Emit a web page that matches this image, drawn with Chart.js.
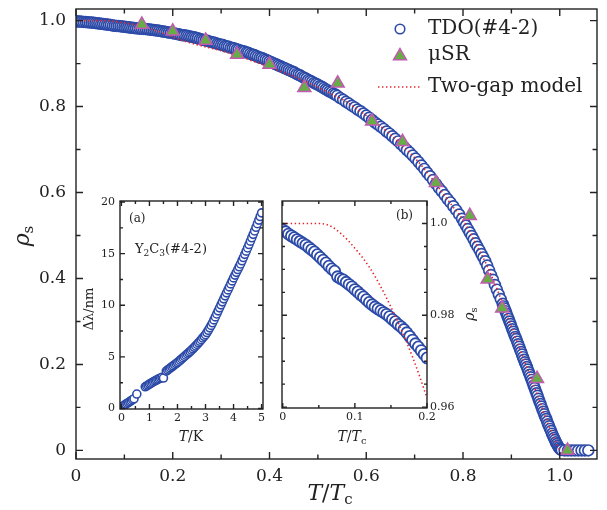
<!DOCTYPE html>
<html>
<head>
<meta charset="utf-8">
<title>Superfluid density of Y2C3</title>
<script src="https://cdn.jsdelivr.net/npm/chart.js@4.4.0/dist/chart.umd.min.js"></script>
<style>
  body { margin: 0; background: #fff; }
  #wrap { position: relative; width: 607px; height: 510px; }
  #wrap canvas { position: absolute; left: 0; top: 0; }
</style>
</head>
<body>
<div id="wrap">
  <canvas id="mainChart" width="607" height="510"></canvas>
  <canvas id="insetA" width="607" height="510"></canvas>
  <canvas id="insetB" width="607" height="510"></canvas>
</div>
<script>
// ---- data ----
// TDO (#4-2): reduced temperature T/Tc and superfluid density rho_s
const tdoT = [
  0, 0.004, 0.008, 0.012, 0.016, 0.02, 0.024, 0.028, 0.032, 0.036,
  0.04, 0.044, 0.048, 0.052, 0.056, 0.06, 0.064, 0.068, 0.072, 0.076,
  0.08, 0.084, 0.088, 0.092, 0.096, 0.1, 0.104, 0.108, 0.112, 0.116,
  0.12, 0.124, 0.128, 0.132, 0.136, 0.14, 0.144, 0.148, 0.152, 0.156,
  0.16, 0.164, 0.168, 0.172, 0.176, 0.18, 0.184, 0.188, 0.192, 0.196,
  0.2,
  0.204, 0.208, 0.212, 0.216, 0.22, 0.224, 0.228, 0.232, 0.236, 0.24,
  0.244, 0.248, 0.252, 0.256, 0.26, 0.264, 0.268, 0.272, 0.276, 0.28,
  0.284, 0.288, 0.292, 0.296, 0.3, 0.304, 0.308, 0.312, 0.316, 0.32,
  0.324, 0.328, 0.332, 0.336, 0.34, 0.344, 0.348, 0.352, 0.356, 0.36,
  0.364, 0.368, 0.372, 0.376, 0.38, 0.384, 0.388, 0.392, 0.396, 0.4,
  0.404, 0.408, 0.412, 0.416, 0.42, 0.424, 0.428, 0.432, 0.436, 0.44,
  0.444, 0.448, 0.452, 0.456, 0.46, 0.464, 0.468, 0.472, 0.476, 0.48,
  0.484, 0.488, 0.492, 0.496, 0.5, 0.504, 0.508, 0.512, 0.516, 0.52,
  0.524, 0.528, 0.532, 0.536, 0.54,
  0.546, 0.552, 0.558, 0.564, 0.57, 0.576, 0.582, 0.588, 0.594, 0.6,
  0.606, 0.612, 0.618, 0.624, 0.63, 0.636, 0.642, 0.648, 0.654, 0.66,
  0.666, 0.672, 0.678, 0.684, 0.69, 0.696, 0.702, 0.708, 0.714, 0.72,
  0.726, 0.732, 0.738, 0.744, 0.75, 0.756, 0.762, 0.768, 0.774, 0.78,
  0.786, 0.792, 0.798,
  0.802, 0.806, 0.81, 0.814, 0.818, 0.822, 0.826, 0.83, 0.834, 0.838,
  0.842, 0.846, 0.85, 0.854, 0.858, 0.862, 0.866, 0.87, 0.874, 0.878,
  0.882,
  0.884, 0.886, 0.888, 0.89, 0.892, 0.894, 0.896, 0.898, 0.9, 0.902,
  0.904, 0.906, 0.908, 0.91, 0.912, 0.914, 0.916, 0.918, 0.92, 0.922,
  0.924, 0.926, 0.928, 0.93, 0.932, 0.934, 0.936, 0.938, 0.94, 0.942,
  0.944, 0.946, 0.948, 0.95, 0.952, 0.954, 0.956, 0.958, 0.96, 0.962,
  0.964, 0.966, 0.968, 0.97, 0.972, 0.974, 0.976, 0.978, 0.98, 0.982,
  0.984, 0.986, 0.988, 0.99, 0.992, 0.994, 0.996, 0.998, 1, 1.002,
  1.004,
  1.01, 1.017, 1.024, 1.031, 1.038, 1.045, 1.052, 1.059
];
const tdoRho = [
  0.9986, 0.9982, 0.9977, 0.9973, 0.9969, 0.9965, 0.9961, 0.9957, 0.9953, 0.9948,
  0.9943, 0.9938, 0.9932, 0.9926, 0.9920, 0.9914, 0.9907, 0.9901, 0.9896, 0.9884,
  0.9880, 0.9877, 0.9872, 0.9867, 0.9862, 0.9856, 0.9851, 0.9845, 0.9840, 0.9834,
  0.9828, 0.9823, 0.9818, 0.9814, 0.9810, 0.9806, 0.9802, 0.9797, 0.9791, 0.9786,
  0.9780, 0.9775, 0.9769, 0.9762, 0.9754, 0.9746, 0.9738, 0.9731, 0.9723, 0.9715,
  0.9707,
  0.970, 0.969, 0.968, 0.967, 0.966, 0.966, 0.965, 0.964, 0.963, 0.962,
  0.961, 0.960, 0.959, 0.957, 0.956, 0.955, 0.954, 0.953, 0.951, 0.950,
  0.949, 0.948, 0.946, 0.945, 0.944, 0.943, 0.941, 0.940, 0.939, 0.937,
  0.936, 0.935, 0.933, 0.932, 0.930, 0.929, 0.928, 0.926, 0.925, 0.923,
  0.921, 0.920, 0.918, 0.916, 0.914, 0.913, 0.911, 0.909, 0.907, 0.905,
  0.903, 0.901, 0.899, 0.897, 0.895, 0.893, 0.891, 0.889, 0.887, 0.885,
  0.883, 0.881, 0.879, 0.876, 0.874, 0.872, 0.869, 0.867, 0.865, 0.862,
  0.860, 0.858, 0.855, 0.853, 0.851, 0.848, 0.846, 0.843, 0.840, 0.838,
  0.835, 0.833, 0.830, 0.828, 0.825,
  0.820, 0.816, 0.811, 0.807, 0.802, 0.798, 0.793, 0.789, 0.784, 0.779,
  0.774, 0.769, 0.763, 0.758, 0.753, 0.748, 0.742, 0.737, 0.731, 0.725,
  0.719, 0.712, 0.706, 0.699, 0.693, 0.686, 0.679, 0.671, 0.663, 0.655,
  0.646, 0.638, 0.629, 0.620, 0.611, 0.603, 0.594, 0.585, 0.577, 0.568,
  0.559, 0.549, 0.539,
  0.531, 0.523, 0.515, 0.507, 0.499, 0.491, 0.482, 0.474, 0.466, 0.457,
  0.449, 0.440, 0.430, 0.419, 0.408, 0.397, 0.385, 0.374, 0.363, 0.352,
  0.341,
  0.335, 0.330, 0.324, 0.318, 0.312, 0.306, 0.300, 0.294, 0.288, 0.282,
  0.276, 0.270, 0.264, 0.259, 0.253, 0.247, 0.241, 0.235, 0.229, 0.223,
  0.217, 0.211, 0.205, 0.200, 0.194, 0.188, 0.182, 0.176, 0.170, 0.164,
  0.158, 0.151, 0.145, 0.139, 0.133, 0.127, 0.120, 0.114, 0.108, 0.102,
  0.096, 0.090, 0.084, 0.078, 0.073, 0.067, 0.061, 0.056, 0.050, 0.045,
  0.039, 0.034, 0.029, 0.024, 0.019, 0.015, 0.011, 0.007, 0.004, 0.002,
  0.001,
  0, 0, 0, 0, 0, 0, 0, 0
];

// muSR points
const musrT   = [0.136, 0.2, 0.268, 0.333, 0.4, 0.472, 0.541, 0.612, 0.675, 0.744, 0.814, 0.851, 0.881, 0.953, 1.016];
const musrRho = [0.991, 0.975, 0.954, 0.921, 0.898, 0.844, 0.854, 0.766, 0.718, 0.623, 0.546, 0.398, 0.331, 0.167, 0.0];

// two-gap model curve
const modelT = [
  0, 0.01, 0.02, 0.03, 0.04, 0.05, 0.06, 0.07, 0.08, 0.09,
  0.1, 0.11, 0.12, 0.13, 0.14, 0.15, 0.16, 0.17, 0.18, 0.19, 0.2,
  0.225, 0.25, 0.275, 0.3, 0.325, 0.35, 0.375, 0.4, 0.425, 0.45,
  0.475, 0.5, 0.525, 0.55, 0.575, 0.6, 0.625, 0.65, 0.675, 0.7,
  0.725, 0.75, 0.775, 0.8, 0.825, 0.85, 0.875, 0.9, 0.925, 0.95, 0.975, 1.0
];
const modelRho = [
  1.0, 1.0, 1.0, 1.0, 1.0, 1.0, 0.9998, 0.9991, 0.9979, 0.9964,
  0.9946, 0.9927, 0.9905, 0.9879, 0.9850, 0.9818, 0.9784, 0.9748, 0.9709, 0.9666, 0.9620,
  0.952, 0.944, 0.937, 0.930, 0.921, 0.912, 0.902, 0.892, 0.881, 0.870,
  0.858, 0.845, 0.831, 0.817, 0.799, 0.779, 0.758, 0.735, 0.709, 0.681,
  0.648, 0.611, 0.573, 0.536, 0.484, 0.429, 0.362, 0.288, 0.214, 0.140, 0.064, 0.0
];

// inset (a): penetration depth shift vs temperature
const insetT = [
  0, 0.05, 0.1, 0.15, 0.2, 0.25, 0.3, 0.35, 0.4, 0.45,
  0.55, 0.85, 0.9, 0.95, 1, 1.05, 1.1, 1.15, 1.2, 1.25,
  1.3, 1.35, 1.4, 1.45, 1.5, 1.6, 1.65, 1.7, 1.75, 1.8,
  1.85, 1.9, 1.95, 2, 2.05, 2.1, 2.15, 2.2, 2.25, 2.3,
  2.35, 2.4, 2.45, 2.5, 2.55, 2.6, 2.65, 2.7, 2.75, 2.8,
  2.85, 2.9, 2.95, 3, 3.05, 3.1, 3.15, 3.2, 3.25, 3.3,
  3.35, 3.4, 3.45, 3.5, 3.55, 3.6, 3.65, 3.7, 3.75, 3.8,
  3.85, 3.9, 3.95, 4, 4.05, 4.1, 4.15, 4.2, 4.25, 4.3,
  4.35, 4.4, 4.45, 4.5, 4.55, 4.6, 4.65, 4.7, 4.75, 4.8,
  4.85, 4.9, 4.95, 5
];
const insetLambda = [
  0.10, 0.20, 0.30, 0.40, 0.49, 0.58, 0.67, 0.76, 0.85, 0.94,
  1.40, 2.10, 2.18, 2.27, 2.36, 2.44, 2.52, 2.60, 2.68, 2.75,
  2.82, 2.89, 2.95, 3.02, 2.95, 3.62, 3.72, 3.83, 3.93, 4.04,
  4.14, 4.24, 4.35, 4.45, 4.56, 4.68, 4.80, 4.92, 5.04, 5.16,
  5.28, 5.40, 5.52, 5.65, 5.78, 5.92, 6.06, 6.21, 6.36, 6.51,
  6.67, 6.83, 6.99, 7.15, 7.36, 7.58, 7.81, 8.05, 8.30, 8.58,
  8.87, 9.16, 9.46, 9.75, 10.04, 10.33, 10.62, 10.91, 11.20, 11.49,
  11.78, 12.07, 12.36, 12.65, 12.92, 13.19, 13.46, 13.73, 14.00, 14.31,
  14.62, 14.93, 15.24, 15.55, 15.88, 16.21, 16.54, 16.87, 17.20, 17.55,
  17.90, 18.25, 18.60, 18.95
];

// ---- styling ----
const SERIF = '"DejaVu Serif", serif';
const INK = '#222';
const BLUE = '#2c4aa8';
const GREEN = '#66ad45';
const PINK = '#c25ab2';
const RED = '#e3262b';

const pairs = (xs, ys) => xs.map((x, i) => ({ x: x, y: ys[i] }));
const isMult = (v, m) => Math.abs(v / m - Math.round(v / m)) < 1e-6;

// text with italic / subscript parts
function richText(ctx, parts, x, y, size, align, rot) {
  ctx.save();
  ctx.translate(x, y);
  if (rot) ctx.rotate(rot);
  const fontOf = p => (p.i ? 'italic ' : '') + (p.sub ? Math.round(size * 0.7) : size) + 'px ' + SERIF;
  let w = 0;
  parts.forEach(p => { ctx.font = fontOf(p); p.w = ctx.measureText(p.t).width; w += p.w; });
  let cx = align === 'left' ? 0 : -w / 2;
  ctx.fillStyle = INK;
  ctx.textAlign = 'left';
  ctx.textBaseline = 'middle';
  parts.forEach(p => {
    ctx.font = fontOf(p);
    ctx.fillText(p.t, cx, p.sub ? size * 0.3 : 0);
    cx += p.w;
  });
  ctx.restore();
}

// box frame with inward ticks on all four sides
const framePlugin = {
  id: 'frame',
  afterDraw(chart, args, opts) {
    const ctx = chart.ctx, a = chart.chartArea;
    const xs = chart.scales.x, ys = chart.scales.y;
    ctx.save();
    ctx.strokeStyle = INK;
    ctx.lineWidth = opts.width;
    ctx.beginPath();
    xs.ticks.forEach(t => {
      const p = xs.getPixelForValue(t.value);
      const len = t.label ? opts.major : opts.minor;
      ctx.moveTo(p, a.bottom); ctx.lineTo(p, a.bottom - len);
      ctx.moveTo(p, a.top); ctx.lineTo(p, a.top + len);
    });
    ys.ticks.forEach(t => {
      const p = ys.getPixelForValue(t.value);
      const len = t.label ? opts.major : opts.minor;
      ctx.moveTo(a.left, p); ctx.lineTo(a.left + len, p);
      ctx.moveTo(a.right, p); ctx.lineTo(a.right - len, p);
    });
    ctx.stroke();
    ctx.strokeRect(a.left, a.top, a.right - a.left, a.bottom - a.top);
    ctx.restore();
  }
};

function axis(o) {
  return {
    type: 'linear',
    position: o.pos,
    min: o.min,
    max: o.max,
    grid: { display: false, drawTicks: false },
    border: { display: false },
    ticks: {
      stepSize: o.step,
      includeBounds: false,
      autoSkip: false,
      maxRotation: 0,
      minRotation: 0,
      padding: o.pad,
      color: INK,
      font: { family: SERIF, size: o.size },
      callback: o.fmt
    },
    afterFit: function(s) {
      if (s.isHorizontal()) {
        s.height = o.fit; s.paddingLeft = 0; s.paddingRight = 0;
      } else {
        s.width = o.fit; s.paddingTop = 0; s.paddingBottom = 0;
      }
    }
  };
}

function ringSet(data, r, bw) {
  return {
    data: data,
    pointStyle: 'circle',
    pointRadius: r,
    pointBorderWidth: bw,
    pointBorderColor: BLUE,
    pointBackgroundColor: '#fff',
    clip: 0
  };
}

function modelSet(data) {
  return {
    data: data,
    showLine: true,
    pointRadius: 0,
    borderColor: RED,
    borderWidth: 1.6,
    borderDash: [1.4, 2.6],
    cubicInterpolationMode: 'monotone',
    fill: false,
    clip: 0
  };
}

const common = {
  responsive: false,
  animation: false,
  devicePixelRatio: 1,
  events: []
};

// ---- main panel ----
new Chart(document.getElementById('mainChart'), {
  type: 'scatter',
  data: {
    datasets: [
      {
        data: pairs(musrT, musrRho),
        pointStyle: 'triangle',
        pointRadius: 7.5,
        pointBorderWidth: 1.5,
        pointBorderColor: PINK,
        pointBackgroundColor: GREEN,
        clip: 0
      },
      modelSet(pairs(modelT, modelRho)),
      ringSet(pairs(tdoT, tdoRho), 5.4, 1.7)
    ]
  },
  options: Object.assign({}, common, {
    layout: { padding: { left: 0, top: 5, right: 10, bottom: 0 } },
    scales: {
      x: axis({ pos: 'bottom', min: 0, max: 1.077, step: 0.1, pad: 7, size: 17, fit: 51,
        fmt: v => isMult(v, 0.2) ? (Math.abs(v) < 1e-9 ? '0' : v.toFixed(1)) : '' }),
      y: axis({ pos: 'left', min: -0.02, max: 1.027, step: 0.1, pad: 10, size: 17, fit: 76,
        fmt: v => isMult(v, 0.2) ? (Math.abs(v) < 1e-9 ? '0' : v.toFixed(1)) : '' })
    },
    plugins: {
      legend: { display: false },
      tooltip: { enabled: false },
      frame: { major: 7, minor: 4.5, width: 1.4 }
    }
  }),
  plugins: [framePlugin, {
    id: 'mainText',
    afterDraw(chart) {
      const ctx = chart.ctx;
      richText(ctx, [{ t: 'T', i: true }, { t: '/' }, { t: 'T', i: true }, { t: 'c', sub: true }], 330, 494, 22, 'center');
      richText(ctx, [{ t: 'ρ', i: true }, { t: 's', sub: true }], 23, 236, 22, 'center', -Math.PI / 2);

      // legend
      ctx.save();
      ctx.lineWidth = 1.6;
      ctx.strokeStyle = BLUE;
      ctx.fillStyle = '#fff';
      ctx.beginPath();
      ctx.arc(400, 29, 4.8, 0, Math.PI * 2);
      ctx.fill(); ctx.stroke();

      const r = 7.5, tx = 400, ty = 56;
      ctx.beginPath();
      for (let k = 0; k < 3; k++) {
        const ang = k * 2 * Math.PI / 3;
        const px = tx + Math.sin(ang) * r, py = ty - Math.cos(ang) * r;
        if (k === 0) ctx.moveTo(px, py); else ctx.lineTo(px, py);
      }
      ctx.closePath();
      ctx.fillStyle = GREEN; ctx.fill();
      ctx.lineWidth = 1.5; ctx.strokeStyle = PINK; ctx.stroke();

      ctx.beginPath();
      ctx.setLineDash([1.4, 2.6]);
      ctx.strokeStyle = RED; ctx.lineWidth = 1.6;
      ctx.moveTo(378, 87); ctx.lineTo(421, 87);
      ctx.stroke();
      ctx.restore();

      richText(ctx, [{ t: 'TDO(#4-2)' }], 428, 29, 20, 'left');
      richText(ctx, [{ t: 'μSR' }], 428, 55, 20, 'left');
      richText(ctx, [{ t: 'Two-gap model' }], 428, 87, 20, 'left');
    }
  }]
});

// ---- inset (a) ----
new Chart(document.getElementById('insetA'), {
  type: 'scatter',
  data: { datasets: [ringSet(pairs(insetT, insetLambda), 4, 1.6)] },
  options: Object.assign({}, common, {
    layout: { padding: { left: 90, top: 201, right: 344, bottom: 76 } },
    scales: {
      x: axis({ pos: 'bottom', min: -0.05, max: 5.05, step: 0.5, pad: 3, size: 11, fit: 25,
        fmt: v => isMult(v, 1) ? String(Math.round(v)) : '' }),
      y: axis({ pos: 'left', min: -0.05, max: 20.1, step: 2.5, pad: 5, size: 11, fit: 30,
        fmt: v => isMult(v, 5) ? String(Math.round(v)) : '' })
    },
    plugins: {
      legend: { display: false },
      tooltip: { enabled: false },
      frame: { major: 5, minor: 3, width: 1.4 }
    }
  }),
  plugins: [framePlugin, {
    id: 'insetAText',
    afterDraw(chart) {
      const ctx = chart.ctx;
      richText(ctx, [{ t: 'T', i: true }, { t: '/K' }], 191, 437, 14, 'center');
      richText(ctx, [{ t: 'Δλ/nm' }], 90, 309, 13, 'center', -Math.PI / 2);
      richText(ctx, [{ t: '(a)' }], 129, 219, 12, 'left');
      richText(ctx, [{ t: 'Y' }, { t: '2', sub: true }, { t: 'C' }, { t: '3', sub: true }, { t: '(#4-2)' }], 135, 250, 13, 'left');
    }
  }]
});

// ---- inset (b) ----
new Chart(document.getElementById('insetB'), {
  type: 'scatter',
  data: {
    datasets: [
      modelSet(pairs(modelT, modelRho)),
      ringSet(pairs(tdoT, tdoRho), 5.5, 1.8)
    ]
  },
  options: Object.assign({}, common, {
    layout: { padding: { left: 282, top: 201, right: 140, bottom: 77 } },
    scales: {
      x: axis({ pos: 'bottom', min: -0.001, max: 0.2, step: 0.05, pad: 3, size: 11, fit: 25,
        fmt: v => isMult(v, 0.1) ? (Math.abs(v) < 1e-9 ? '0' : v.toFixed(1)) : '' }),
      y: axis({ pos: 'right', min: 0.9598, max: 1.0049, step: 0.005, pad: 3, size: 11, fit: 40,
        fmt: v => Math.abs(v - 1) < 1e-6 ? '1.0' : Math.abs(v - 0.98) < 1e-6 ? '0.98' : Math.abs(v - 0.96) < 1e-6 ? '0.96' : '' })
    },
    plugins: {
      legend: { display: false },
      tooltip: { enabled: false },
      frame: { major: 5, minor: 3, width: 1.4 }
    }
  }),
  plugins: [framePlugin, {
    id: 'insetBText',
    afterDraw(chart) {
      const ctx = chart.ctx;
      richText(ctx, [{ t: 'T', i: true }, { t: '/' }, { t: 'T', i: true }, { t: 'c', sub: true }], 352, 437, 14, 'center');
      richText(ctx, [{ t: 'ρ', i: true }, { t: 's', sub: true }], 470, 314, 14, 'center', -Math.PI / 2);
      richText(ctx, [{ t: '(b)' }], 396, 216, 12, 'left');
    }
  }]
});
</script>
</body>
</html>
